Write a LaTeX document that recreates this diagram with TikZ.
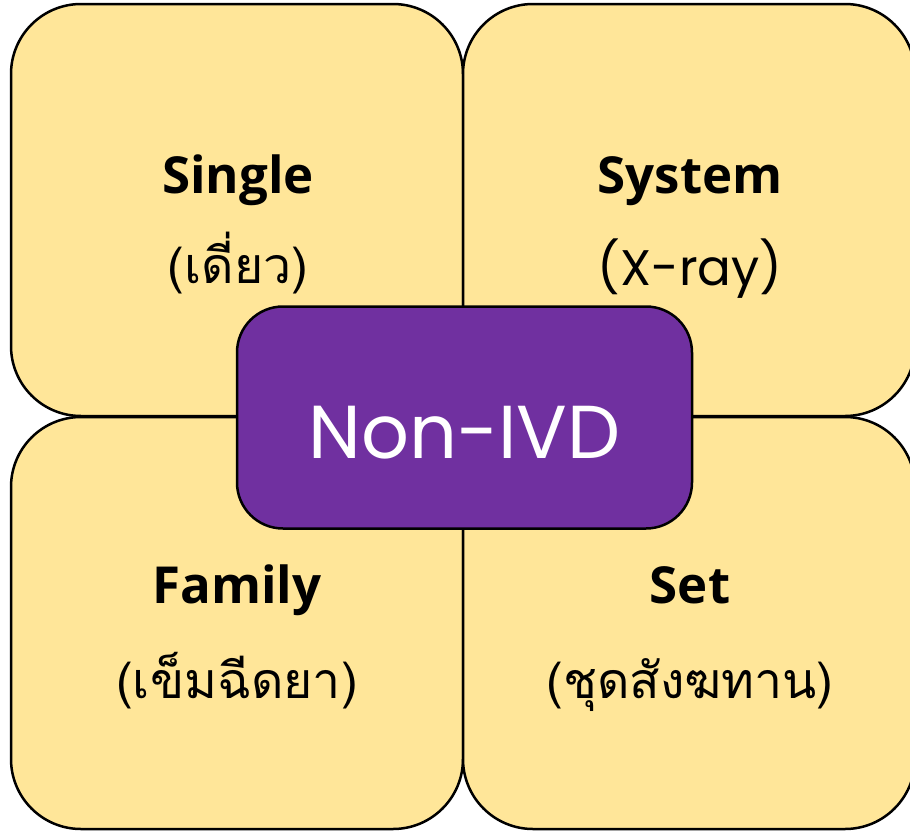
\documentclass[tikz,border=0pt]{standalone}
\usepackage{fontspec}
\setmainfont{Open Sans}
\newfontfamily\thaifont[Script=Thai]{Loma}
\newfontfamily\ivdfont{Poppins}
\usetikzlibrary{positioning}
\definecolor{boxyellow}{HTML}{FFE699}
\definecolor{ivdpurple}{HTML}{7030A0}

\begin{document}
\begin{tikzpicture}[x=1pt,y=-1pt,
  quad/.style={draw=black,line width=2.5pt,fill=boxyellow,rounded corners=70pt,
     minimum width=452pt,minimum height=412pt,inner sep=0pt},
  core/.style={draw=black,line width=2.5pt,fill=ivdpurple,rounded corners=46pt,
     minimum width=455pt,minimum height=222pt,inner sep=0pt},
  title/.style={anchor=base,inner sep=0pt,font=\bfseries\fontsize{51}{60}\selectfont},
  sub/.style={anchor=base,inner sep=0pt,font=\thaifont\fontsize{50}{60}\selectfont},
  corelabel/.style={anchor=base,inner sep=0pt,text=white,font=\ivdfont\fontsize{75}{90}\selectfont}]
   \useasboundingbox (0,0) rectangle (910,830);
   % four quadrants
   \node[quad] (single) at (237,210) {};
   \node[quad] (system) at (689,210) {};
   \node[quad] (family) at (237,623) {};
   \node[quad] (set)    at (689,623) {};
   % labels
   \node[title] (singleT) at (238,193) {Single};
   \node[sub]   (singleS) at (238,283) {(เดี่ยว)};
   \node[title] (systemT) at (690,193) {System};
   \node[sub,font=\ivdfont\fontsize{50}{60}\selectfont] (systemS) at (690,285) {(X-ray)};
   \node[title] (familyT) at (237,603) {Family};
   \node[sub]   (familyS) at (237,698) {(เข็มฉีดยา)};
   \node[title] (setT) at (690,603) {Set};
   \node[sub]   (setS) at (690,698) {(ชุดสังฆทาน)};
   % centre
   \node[core] (ivd) at (464.5,417.5) {};
   \node[corelabel] (ivdT) at (464.5,458) {Non-IVD};
\end{tikzpicture}
\end{document}
